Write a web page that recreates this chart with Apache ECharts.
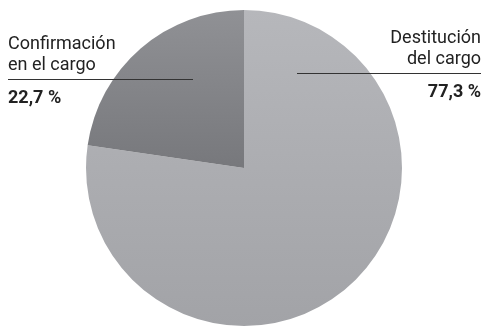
<!DOCTYPE html>
<html><head><meta charset="utf-8">
<style>html,body{margin:0;padding:0;background:#fff;}#c{width:485px;height:327px;}</style>
<script src="https://cdn.jsdelivr.net/npm/echarts@6/dist/echarts.min.js"></script>
</head><body><div id="c"></div>
<script>
var categories = ['Destitución\ndel cargo', 'Confirmación\nen el cargo'];
var values = [77.3, 22.7];
var valueLabels = ['77,3 %', '22,7 %'];

var chart = echarts.init(document.getElementById('c'), null, {renderer: 'canvas'});
var FONT = 'Roboto';
var layouts = [
  {x: 481, y: 28, align: 'right', line: [297, 481, 73.5]},
  {x: 8, y: 34, align: 'left', line: [8, 193, 79.5]}
];
var colors = [
  new echarts.graphic.LinearGradient(0, 0, 0, 1, [{offset: 0, color: '#b6b7bb'}, {offset: 1, color: '#a2a3a7'}]),
  new echarts.graphic.LinearGradient(0, 0, 0, 1, [{offset: 0, color: '#909195'}, {offset: 1, color: '#77787c'}])
];
chart.setOption({
  animation: false,
  graphic: layouts.map(function (L) {
    return {type: 'line', z: 100, shape: {x1: L.line[0], y1: L.line[2], x2: L.line[1], y2: L.line[2]},
      style: {stroke: '#333', lineWidth: 1}};
  }),
  series: [{
    type: 'pie',
    center: [244, 168],
    radius: [0, 158],
    startAngle: 90,
    clockwise: true,
    data: categories.map(function (c, i) {
      return {name: c, value: values[i], itemStyle: {color: colors[i]}};
    }),
    label: {
      show: true,
      overflow: 'none',
      formatter: function (p) {
        var lines = p.name.split('\n');
        return lines.map(function (l) { return '{n|' + l + '}'; }).join('\n') + '\n{v|' + valueLabels[p.dataIndex] + '}';
      },
      rich: {
        n: {fontFamily: FONT, fontSize: 18, lineHeight: 21, color: '#222'},
        v: {fontFamily: FONT, fontSize: 18, fontWeight: 'bold', lineHeight: 44, color: '#222'}
      }
    },
    labelLine: {show: false},
    labelLayout: function (p) {
      var L = layouts[p.dataIndex];
      return {x: L.x, y: L.y, align: L.align, verticalAlign: 'top'};
    },
    emphasis: {disabled: true}
  }]
});
</script></body></html>
